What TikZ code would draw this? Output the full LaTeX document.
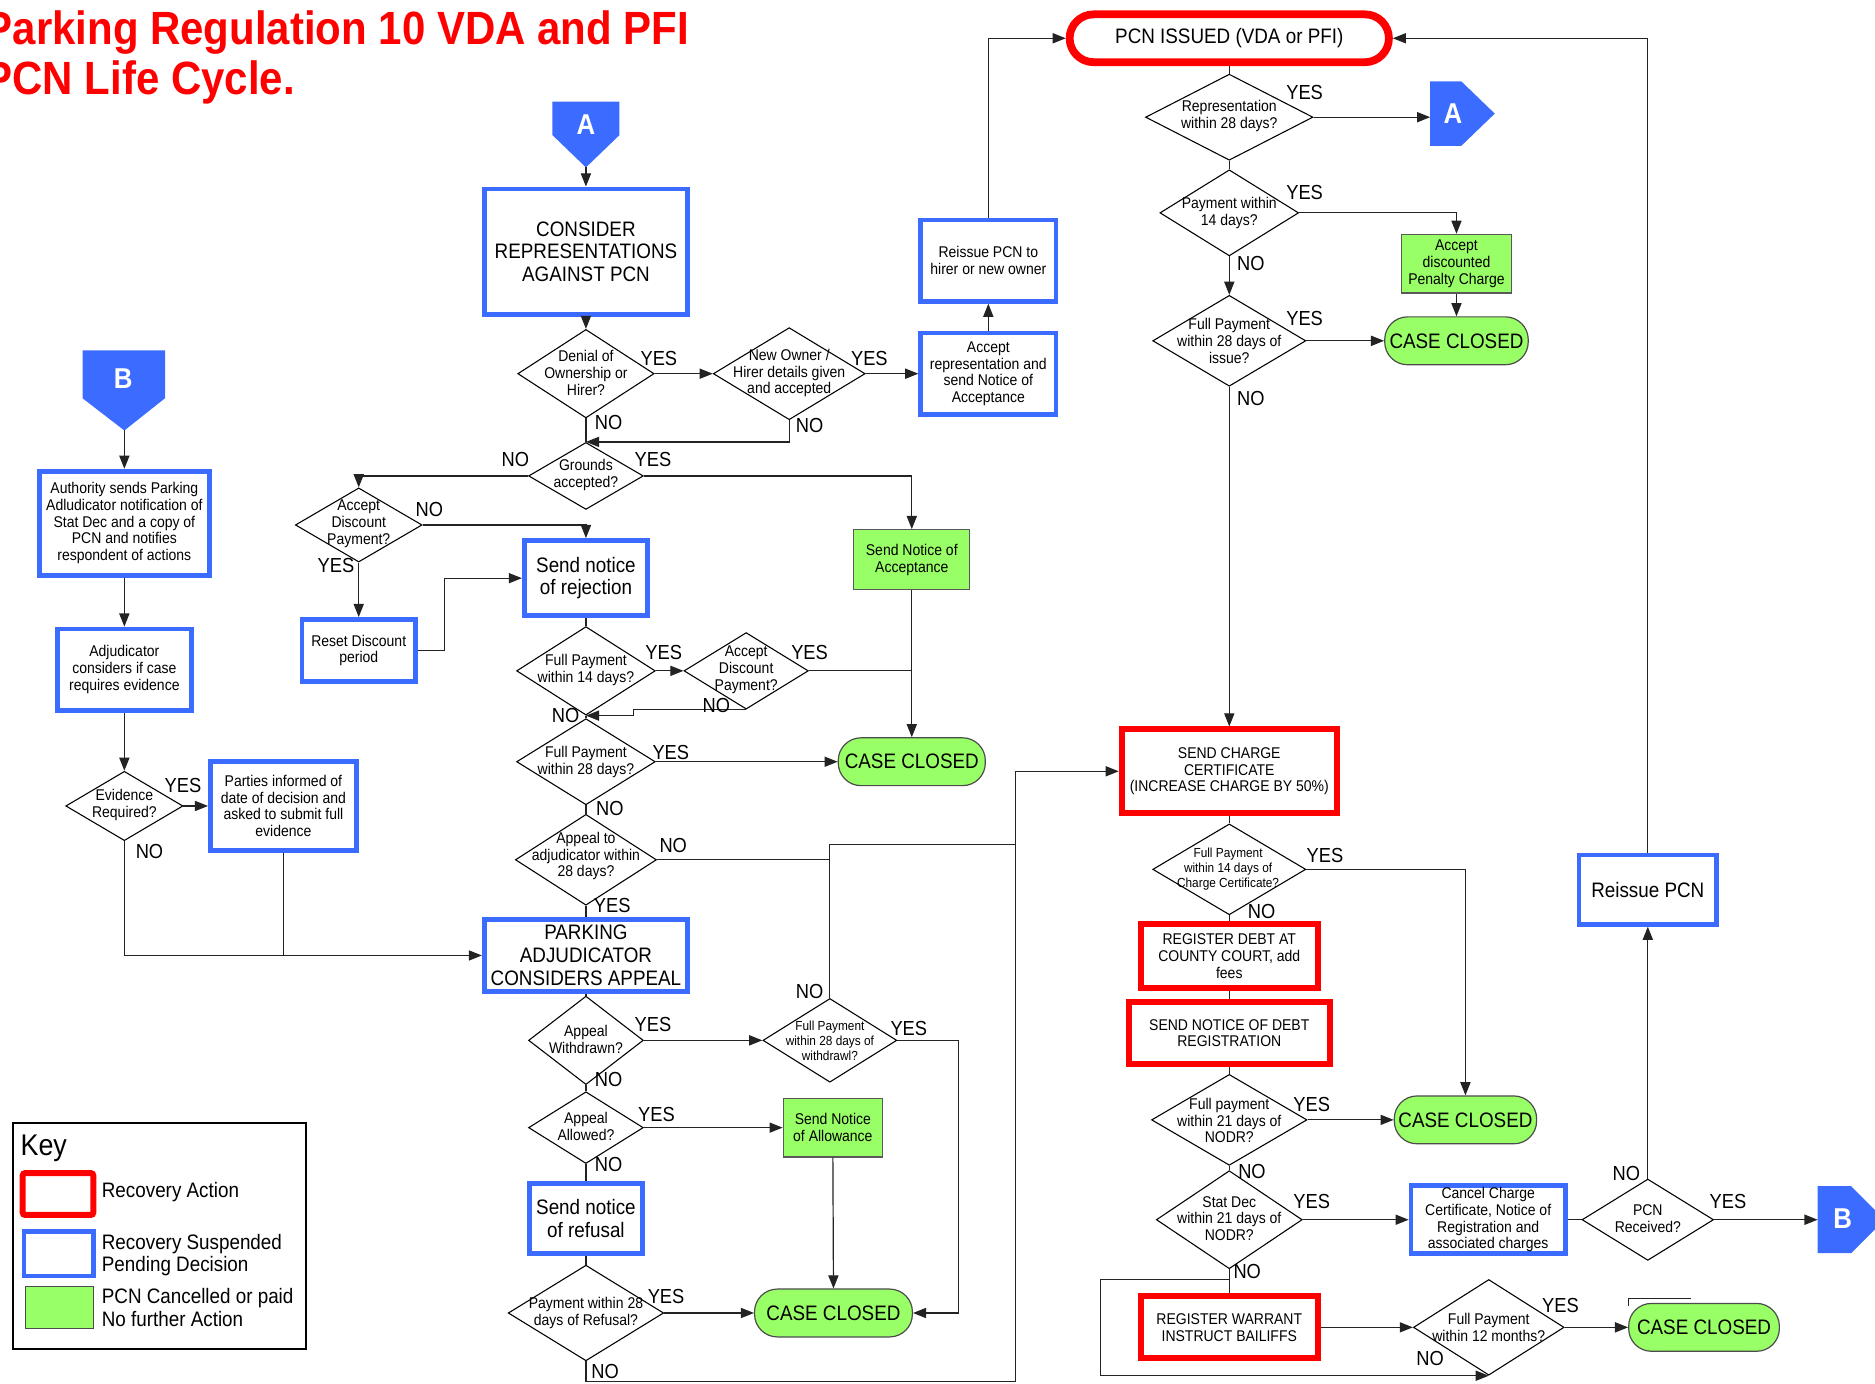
\documentclass[tikz,border=0pt]{standalone}
\usepackage{fontspec}
\setmainfont[FakeStretch=0.9]{Liberation Sans}
\usetikzlibrary{shapes.geometric,arrows.meta}
\definecolor{myblue}{RGB}{60,108,255}
\definecolor{mygreen}{RGB}{153,255,102}
\definecolor{lnc}{RGB}{35,35,35}
\tikzset{
 conn/.style={draw=lnc, line width=1pt},
 arr/.style={conn, -{Triangle[length=11pt,width=8.5pt]}},
 bbox/.style={draw=myblue, line width=4pt, fill=white, align=center, inner sep=1pt, font=\fontsize{13}{14}\selectfont},
 rbox/.style={draw=red, line width=5pt, fill=white, align=center, inner sep=1pt, font=\fontsize{13}{14}\selectfont},
 gbox/.style={draw=black!65, line width=1pt, fill=mygreen, align=center, inner sep=1pt, font=\fontsize{13}{14}\selectfont},
 closed/.style={draw=black!70, line width=1pt, fill=mygreen, rounded corners=19pt, minimum height=40pt, inner sep=0, font=\fontsize{17.5}{19}\selectfont},
 dia/.style={diamond, draw=black, line width=0.9pt, inner sep=0, fill=white},
 dtext/.style={align=center, inner sep=0, font=\fontsize{13}{14}\selectfont},
 yn/.style={inner sep=0, font=\fontsize{17}{17}\selectfont},
 big/.style={font=\fontsize{17.5}{19}\selectfont},
 small/.style={font=\fontsize{11}{12.5}\selectfont},
 lgd/.style={inner sep=0, align=left, font=\fontsize{17.5}{19}\selectfont},
 conlet/.style={text=white, inner sep=0, font=\fontsize{24}{24}\bfseries\selectfont},
}
\begin{document}
\begin{tikzpicture}[x=1pt,y=-1pt]
\useasboundingbox (0,0) rectangle (1568,1157);

% ---------- title ----------
\node[anchor=base west, inner sep=0, text=red, font=\fontsize{39}{39}\bfseries\selectfont] (title1) at (-13,37) {Parking Regulation 10 VDA and PFI};
\node[anchor=base west, inner sep=0, text=red, font=\fontsize{39}{39}\bfseries\selectfont] (title2) at (-13,79) {PCN Life Cycle.};

% ---------- off-page connectors ----------
\fill[myblue] (462,85) -- (518,85) -- (518,113) -- (490,140) -- (462,113) -- cycle;
\node[conlet] (Alet) at (490,104) {A};
\coordinate (Atip) at (490,140);
\fill[myblue] (69,293) -- (138,293) -- (138,333) -- (104,360) -- (69,333) -- cycle;
\node[conlet] (Blet) at (103,317) {B};
\coordinate (Btip) at (104,360);
\fill[myblue] (1196,68) -- (1222,68) -- (1250,95) -- (1222,122) -- (1196,122) -- cycle;
\node[conlet] (A2let) at (1215,95) {A};
\coordinate (A2in) at (1196,98);
\fill[myblue] (1520,992) -- (1548,992) -- (1576,1020) -- (1548,1048) -- (1520,1048) -- cycle;
\node[conlet] (B2let) at (1541,1019) {B};
\coordinate (B2in) at (1520,1020);

% ---------- centre column ----------
\node[bbox, big, minimum width=170pt, minimum height=105pt] (consider) at (490,210.5) {CONSIDER\\REPRESENTATIONS\\AGAINST PCN};
\node[dia, minimum width=114pt, minimum height=74pt] (denial) at (490,312.5) {};
\node[dtext] (denialT) at (490,312) {Denial of\\Ownership or\\Hirer?};
\node[dia, minimum width=127pt, minimum height=77pt] (newowner) at (660,312.5) {};
\node[dtext] (newownerT) at (660,312) {New Owner /\\Hirer details given\\and accepted};
\node[bbox, minimum width=113pt, minimum height=68pt] (accrep) at (826.5,312.5) {Accept\\representation and\\send Notice of\\Acceptance};
\node[bbox, minimum width=113pt, minimum height=68pt] (reissue1) at (826.5,218) {Reissue PCN to\\hirer or new owner};
\node[dia, minimum width=96pt, minimum height=56pt] (grounds) at (490,398) {};
\node[dtext] (groundsT) at (490,397) {Grounds\\accepted?};
\node[dia, minimum width=106pt, minimum height=62pt] (accdisc1) at (300,439) {};
\node[dtext] (accdisc1T) at (300,438) {Accept\\Discount\\Payment?};
\node[bbox, minimum width=95pt, minimum height=52pt] (reset) at (300,544) {Reset Discount\\period};
\node[bbox, big, minimum width=103pt, minimum height=63pt] (rejection) at (490,483.5) {Send notice\\of rejection};
\node[gbox, minimum width=97pt, minimum height=50pt] (noticeacc) at (762.5,468) {Send Notice of\\Acceptance};
\node[dia, minimum width=116pt, minimum height=74pt] (fp14) at (490,561) {};
\node[dtext] (fp14T) at (490,560) {Full Payment\\within 14 days?};
\node[dia, minimum width=104pt, minimum height=64pt] (accdisc2) at (624,561) {};
\node[dtext] (accdisc2T) at (624,560) {Accept\\Discount\\Payment?};
\node[dia, minimum width=116pt, minimum height=72pt] (fp28) at (490,637) {};
\node[dtext] (fp28T) at (490,637) {Full Payment\\within 28 days?};
\node[closed, minimum width=123pt] (closed1) at (762.5,637) {CASE CLOSED};
\node[dia, minimum width=118pt, minimum height=76pt] (appeal28) at (490,719) {};
\node[dtext] (appeal28T) at (490,716) {Appeal to\\adjudicator within\\28 days?};
\node[bbox, big, minimum width=170pt, minimum height=60pt] (parking) at (490,799) {PARKING\\ADJUDICATOR\\CONSIDERS APPEAL};
\node[dia, minimum width=96pt, minimum height=74pt] (withdrawn) at (490,870) {};
\node[dtext] (withdrawnT) at (490,869) {Appeal\\Withdrawn?};
\node[dia, minimum width=112pt, minimum height=70pt] (fpwd) at (694,870) {};
\node[dtext, small] (fpwdT) at (694,870) {Full Payment\\within 28 days of\\withdrawl?};
\node[dia, minimum width=96pt, minimum height=60pt] (allowed) at (490,943) {};
\node[dtext] (allowedT) at (490,942) {Appeal\\Allowed?};
\node[gbox, minimum width=83pt, minimum height=49pt] (allowance) at (696.5,943) {Send Notice\\of Allowance};
\node[bbox, big, minimum width=94pt, minimum height=58pt] (refusal) at (490,1019) {Send notice\\of refusal};
\node[dia, minimum width=130pt, minimum height=80pt] (payref) at (490,1098) {};
\node[dtext] (payrefT) at (490,1098) {Payment within 28\\days of Refusal?};
\node[closed, minimum width=132pt] (closed3) at (697,1098) {CASE CLOSED};

% ---------- left column ----------
\node[bbox, minimum width=142pt, minimum height=87pt] (authority) at (104,437.5) {Authority sends Parking\\Adludicator notification of\\Stat Dec and a copy of\\PCN and notifies\\respondent of actions};
\node[bbox, minimum width=112pt, minimum height=68pt] (adjcons) at (104,560) {Adjudicator\\considers if case\\requires evidence};
\node[dia, minimum width=98pt, minimum height=58pt] (evidence) at (104,674) {};
\node[dtext] (evidenceT) at (104,673) {Evidence\\Required?};
\node[bbox, minimum width=122pt, minimum height=74pt] (parties) at (237,674) {Parties informed of\\date of decision and\\asked to submit full\\evidence};

% ---------- right column ----------
\node[draw=red, line width=6.5pt, fill=white, rounded corners=20pt, minimum width=267pt, minimum height=40pt, big, inner sep=0] (pcn) at (1028,32) {PCN ISSUED (VDA or PFI)};
\node[dia, minimum width=140pt, minimum height=72pt] (rep28) at (1028,98) {};
\node[dtext] (rep28T) at (1028,97) {Representation\\within 28 days?};
\node[dia, minimum width=116pt, minimum height=72pt] (pay14) at (1028,178) {};
\node[dtext] (pay14T) at (1028,178) {Payment within\\14 days?};
\node[gbox, minimum width=92pt, minimum height=49pt] (accdiscpen) at (1218,220.5) {Accept\\discounted\\Penalty Charge};
\node[closed, minimum width=120pt] (closedTR) at (1218,285) {CASE CLOSED};
\node[dia, minimum width=128pt, minimum height=76pt] (fp28i) at (1028,285) {};
\node[dtext] (fp28iT) at (1028,285) {Full Payment\\within 28 days of\\issue?};
\node[rbox, minimum width=180pt, minimum height=70pt] (sendcc) at (1028,645) {SEND CHARGE\\CERTIFICATE\\(INCREASE CHARGE BY 50\%)};
\node[dia, minimum width=128pt, minimum height=76pt] (fp14cc) at (1028,727) {};
\node[dtext, small] (fp14ccT) at (1027,727) {Full Payment\\within 14 days of\\Charge Certificate?};
\node[rbox, minimum width=148pt, minimum height=53pt] (regdebt) at (1028,799.5) {REGISTER DEBT AT\\COUNTY COURT, add\\fees};
\node[rbox, minimum width=168pt, minimum height=52pt] (nodr) at (1028,864) {SEND NOTICE OF DEBT\\REGISTRATION};
\node[dia, minimum width=130pt, minimum height=76pt] (fp21) at (1028,936.5) {};
\node[dtext] (fp21T) at (1028,937) {Full payment\\within 21 days of\\NODR?};
\node[closed, minimum width=119pt] (closedMR) at (1225.5,936.5) {CASE CLOSED};
\node[dia, minimum width=122pt, minimum height=82pt] (statdec) at (1028,1020) {};
\node[dtext] (statdecT) at (1028,1019) {Stat Dec\\within 21 days of\\NODR?};
\node[bbox, minimum width=129pt, minimum height=57pt] (cancel) at (1244.5,1020) {Cancel Charge\\Certificate, Notice of\\Registration and\\associated charges};
\node[dia, minimum width=110pt, minimum height=68pt] (pcnrec) at (1378,1020) {};
\node[dtext] (pcnrecT) at (1378,1019) {PCN\\Received?};
\node[bbox, big, minimum width=115pt, minimum height=58pt] (reissue2) at (1378,744) {Reissue PCN};
\node[rbox, minimum width=148pt, minimum height=52pt] (warrant) at (1028,1110) {REGISTER WARRANT\\INSTRUCT BAILIFFS};
\node[dia, minimum width=126pt, minimum height=80pt] (fp12) at (1245,1110) {};
\node[dtext] (fp12T) at (1245,1110) {Full Payment\\within 12 months?};
\node[closed, minimum width=126pt] (closedBR) at (1425,1110) {CASE CLOSED};

% ---------- key ----------
\node[draw=black, line width=1.5pt, minimum width=245pt, minimum height=189pt, inner sep=0] (key) at (133.5,1033.5) {};
\node[anchor=west, inner sep=0, font=\fontsize{25}{25}\selectfont] (keyT) at (17,960) {Key};
\node[draw=red, line width=5pt, minimum width=59pt, minimum height=35pt, rounded corners=2pt] (keyR) at (48.5,998.5) {};
\node[anchor=west, lgd] (keyRT) at (85,997) {Recovery Action};
\node[draw=myblue, line width=4pt, minimum width=58pt, minimum height=37pt] (keyB) at (49,1048.5) {};
\node[anchor=west, lgd] (keyBT) at (85,1049.5) {Recovery Suspended\\Pending Decision};
\node[draw=black!70, line width=1pt, fill=mygreen, minimum width=57pt, minimum height=35pt] (keyG) at (49.5,1093.5) {};
\node[anchor=west, lgd] (keyGT) at (85,1093.5) {PCN Cancelled or paid\\No further Action};

% ---------- connectors: centre ----------
\draw[arr] (Atip) -- (consider.north);
\draw[arr] (consider.south) -- (denial.north);
\draw[arr] (denial.east) -- (newowner.west);
\draw[arr] (newowner.east) -- (accrep.west);
\draw[arr] (accrep.north) -- (reissue1.south);
\draw[arr] (reissue1.north) |- (pcn.west);
\draw[arr] (newowner.south) |- (grounds.north);
\draw[conn] (denial.south) -- (grounds.north);
\draw[arr] (grounds.west) -| (accdisc1.north);
\draw[arr] (grounds.east) -| (noticeacc.north);
\draw[arr] (accdisc1.east) -| (rejection.north);
\draw[arr] (accdisc1.south) -- (reset.north);
\draw[arr] (reset.east) -- ++(22,0) |- (rejection.west);
\draw[conn] (rejection.south) -- (fp14.north);
\draw[arr] (fp14.east) -- (accdisc2.west);
\draw[conn] (accdisc2.east) -- (accdisc2.east -| noticeacc.south);
\draw[arr] (noticeacc.south) -- (closed1.north);
\draw[arr] (accdisc2.south) -- ++(-94,0) |- (fp14.south);
\draw[conn] (fp14.south) -- (fp28.north);
\draw[arr] (fp28.east) -- (closed1.west);
\draw[conn] (fp28.south) -- (appeal28.north);
\draw[conn] (appeal28.south) -- (parking.north);
\coordinate (jx) at (849,706);
\draw[conn] (appeal28.east) -- (appeal28.east -| fpwd.north);
\draw[arr] (fpwd.north) |- (jx) |- (sendcc.west);
\draw[conn] (payref.south) |- (849,1155) -- (jx);
\draw[conn] (parking.south) -- (withdrawn.north);
\draw[arr] (withdrawn.east) -- (fpwd.west);
\draw[arr] (fpwd.east) -- ++(51,0) |- (closed3.east);
\draw[conn] (withdrawn.south) -- (allowed.north);
\draw[arr] (allowed.east) -- (allowance.west);
\draw[arr] (allowance.south) -- (closed3.north);
\draw[conn] (allowed.south) -- (refusal.north);
\draw[conn] (refusal.south) -- (payref.north);
\draw[arr] (payref.east) -- (closed3.west);

% ---------- connectors: left ----------
\draw[arr] (Btip) -- (authority.north);
\draw[arr] (authority.south) -- (adjcons.north);
\draw[arr] (adjcons.south) -- (evidence.north);
\draw[arr] (evidence.east) -- (parties.west);
\draw[arr] (evidence.south) |- (parking.west);
\draw[conn] (parties.south) -- (parties.south |- parking.west);

% ---------- connectors: right ----------
\draw[conn] (pcn.south) -- (rep28.north);
\draw[arr] (rep28.east) -- (A2in);
\draw[conn] (rep28.south) -- (pay14.north);
\draw[arr] (pay14.east) -| (accdiscpen.north);
\draw[arr] (accdiscpen.south) -- (closedTR.north);
\draw[arr] (pay14.south) -- (fp28i.north);
\draw[arr] (fp28i.east) -- (closedTR.west);
\draw[arr] (fp28i.south) -- (sendcc.north);
\draw[conn] (sendcc.south) -- (fp14cc.north);
\draw[arr] (fp14cc.east) -| (closedMR.north);
\draw[conn] (fp14cc.south) -- (regdebt.north);
\draw[conn] (regdebt.south) -- (nodr.north);
\draw[conn] (nodr.south) -- (fp21.north);
\draw[arr] (fp21.east) -- (closedMR.west);
\draw[conn] (fp21.south) -- (statdec.north);
\draw[arr] (statdec.east) -- (cancel.west);
\draw[conn] (cancel.east) -- (pcnrec.west);
\draw[arr] (pcnrec.north) -- (reissue2.south);
\draw[arr] (reissue2.north) |- (pcn.east);
\draw[arr] (pcnrec.east) -- (B2in);
\draw[conn] (statdec.south) -- (warrant.north);
\coordinate (jw) at (1028,1070);
\draw[arr] (jw) -- (920,1070) |- (fp12.south);
\draw[arr] (warrant.east) -- (fp12.west);
\draw[arr] (fp12.east) -- (closedBR.west);
\draw[conn] (1362,1092) -- (1362,1086) -- (1414,1086);

% ---------- YES / NO labels ----------
\node[yn] (l1) at (551,300) {YES};
\node[yn] (l2) at (509,353) {NO};
\node[yn] (l3) at (727,300) {YES};
\node[yn] (l4) at (677,356) {NO};
\node[yn] (l5) at (431,384) {NO};
\node[yn] (l6) at (546,384) {YES};
\node[yn] (l7) at (359,426) {NO};
\node[yn] (l8) at (281,473) {YES};
\node[yn] (l9) at (555,546) {YES};
\node[yn] (l10) at (473,598) {NO};
\node[yn] (l11) at (677,546) {YES};
\node[yn] (l12) at (599,590) {NO};
\node[yn] (l13) at (561,629) {YES};
\node[yn] (l14) at (510,676) {NO};
\node[yn] (l15) at (563,707) {NO};
\node[yn] (l16) at (512,757) {YES};
\node[yn] (l17) at (546,857) {YES};
\node[yn] (l18) at (509,903) {NO};
\node[yn] (l19) at (677,829) {NO};
\node[yn] (l20) at (760,860) {YES};
\node[yn] (l21) at (549,932) {YES};
\node[yn] (l22) at (509,974) {NO};
\node[yn] (l23) at (557,1084) {YES};
\node[yn] (l24) at (506,1147) {NO};
\node[yn] (l25) at (153,657) {YES};
\node[yn] (l26) at (125,712) {NO};
\node[yn] (l27) at (1091,77) {YES};
\node[yn] (l28) at (1091,161) {YES};
\node[yn] (l29) at (1046,220) {NO};
\node[yn] (l30) at (1091,266) {YES};
\node[yn] (l31) at (1046,333) {NO};
\node[yn] (l32) at (1108,715) {YES};
\node[yn] (l33) at (1055,762) {NO};
\node[yn] (l34) at (1097,924) {YES};
\node[yn] (l35) at (1047,980) {NO};
\node[yn] (l36) at (1097,1005) {YES};
\node[yn] (l37) at (1043,1063) {NO};
\node[yn] (l38) at (1360,981) {NO};
\node[yn] (l39) at (1445,1005) {YES};
\node[yn] (l40) at (1305,1092) {YES};
\node[yn] (l41) at (1196,1136) {NO};
\end{tikzpicture}
\end{document}
